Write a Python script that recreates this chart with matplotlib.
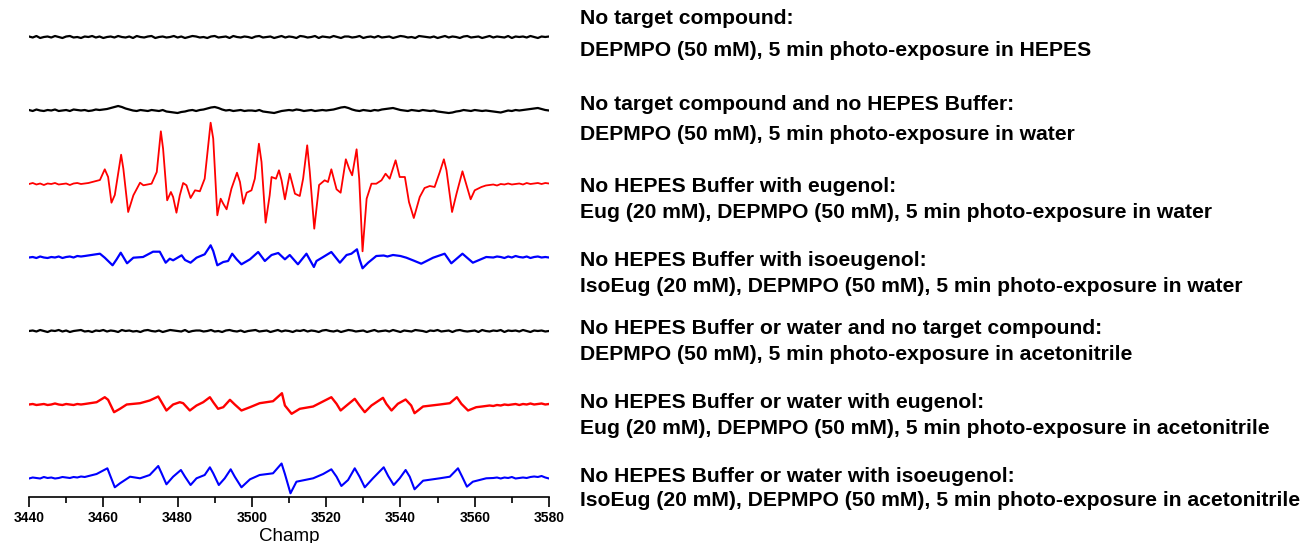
import numpy as np
import matplotlib
matplotlib.use('Agg')
import matplotlib.pyplot as plt
from matplotlib.ticker import MultipleLocator

plt.rcParams['font.family'] = ['Liberation Sans', 'DejaVu Sans']

# 1 G sampling grid for the flat (noise only) spectra, values read by eye
flat_field = np.arange(3440, 3581, 1)

blank_hepes = [0.5, -0.5, 1, -1, 0, 0.5, -0.5, 1, 0, -1,
               0.5, 1, -0.5, 0, -1, 0.5, 0, 1, -0.5, 0.5,
               -1, 0, 0.5, -0.5, 1, 0, -0.5, 0.5, -1, 1,
               0, -0.5, 0.5, 1, -1, 0, 0.5, -0.5, 0, 1,
               -0.5, 0.5, -1, 0, 1, 0.5, -0.5, 0, -1, 0.5,
               1, -0.5, 0, 0.5, -1, 1, 0, -0.5, 0.5, 0,
               -1, 0.5, 1, -0.5, 0, 0.5, -1, 0, 1, -0.5,
               0.5, 0, -1, 1, 0.5, -0.5, 0, 1, -1, 0.5,
               0, -0.5, 1, 0, -1, 0.5, 0.5, -0.5, 0, 1,
               -1, 0, 0.5, -0.5, 1, -0.5, 0, 0.5, -1, 0,
               1, 0.5, -0.5, 0, -1, 1, 0.5, 0, -0.5, 0.5,
               -1, 0, 1, -0.5, 0.5, 0, -1, 0.5, 1, -0.5,
               0, 0.5, -1, 0, 1, -0.5, 0.5, 0, -0.5, 1,
               -1, 0.5, 0, 0.5, -0.5, 1, 0, -1, 0.5, 0,
               0.5]

blank_water = [0.5, -0.5, 1, 0, -0.5, 0.5, 0, 1, -0.5, 0,
               0.5, -0.5, 1, 0.5, 0, 0.5, -0.5, 0, 1, 0.5,
               1, 1.5, 2.5, 3.5, 4.5, 3.5, 2, 1, 0, -0.5,
               0.5, 0, -0.5, 0.5, 0, -0.5, 0.5, -1, -1.5, -2,
               -2.5, -1.5, -1, 0, 0.5, -0.5, 0.5, 1, 2, 3,
               3.5, 2.5, 1, 0, 0.5, -0.5, 0, 0.5, -0.5, 0,
               0, -0.5, 0.5, -1, -1.5, -2, -2.5, -1.5, -0.5, 0,
               0.5, 0, 1, 0.5, -0.5, 0, 0.5, -0.5, 0, 0.5,
               0, 0.5, 1, 2, 3, 3.5, 2.5, 1, 0, -0.5,
               0.5, 0, -0.5, 0.5, 0, 1, 1.5, 2, 2.5, 1.5,
               0.5, 0, -0.5, 0.5, 0, -0.5, 0.5, 0, -0.5, 0,
               -1, -1.5, -2, -2.5, -2, -1, -0.5, 0.5, 0, -0.5,
               0.5, 0, -0.5, 0, -0.5, -1, -1.5, -2, -1, 0,
               -0.5, 0.5, 0, 0.5, 1, 1.5, 2, 2.5, 1.5, 0.5,
               0]

blank_acn = [0, 0.5, -0.5, 1, 0, -1, 0.5, 0, 1, -0.5,
             0.5, -1, 0, 0.5, 1, -0.5, 0, -1, 0.5, 0,
             1, -0.5, 0.5, 0, -1, 1, 0, 0.5, -0.5, 0,
             -1, 0.5, 1, 0, -0.5, 0.5, -1, 0, 1, 0.5,
             0, -0.5, 1, -1, 0, 0.5, 0.5, -0.5, 0, 1,
             -0.5, 0, -1, 0.5, 1, 0, -0.5, 0.5, -1, 0,
             0.5, 1, -0.5, 0, 0.5, -1, 0, 1, -0.5, 0.5,
             0, -1, 0.5, 0, 1, -0.5, 0.5, 0, -1, 0.5,
             1, 0, -0.5, 0.5, -1, 0, 1, 0.5, -0.5, 0,
             0.5, -1, 0, 1, -0.5, 0, 0.5, -0.5, 1, 0,
             -1, 0.5, 0, -0.5, 1, 0.5, 0, -1, 0.5, 0,
             1, -0.5, 0, 0.5, -1, 0.5, 1, 0, -0.5, 0,
             0.5, -1, 1, 0, -0.5, 0.5, 0, 1, -1, 0.5,
             0, 0.5, -0.5, 1, 0, -1, 0.5, 0, 0.5, -0.5,
             0]

# eugenol in water
eug_water_field = [3440, 3441, 3442, 3443, 3444, 3445, 3446, 3447, 3448,
                   3449, 3450, 3451, 3452, 3453, 3454, 3455, 3456,
                   3459.1, 3460.4, 3461.3, 3462.2, 3463.1, 3464.8,
                   3465.4, 3466.7, 3468.1, 3469.9, 3470.8, 3473.0, 3474.4, 3475.5,
                   3476.1, 3477.2, 3478.2, 3478.8, 3479.7, 3480.6, 3481.5, 3482.4,
                   3483.5, 3484.7, 3486.0, 3487.3, 3488.9, 3489.6, 3490.7, 3491.6,
                   3492.3, 3493.2, 3494.5, 3496.0, 3496.8, 3497.7, 3498.6, 3499.9,
                   3500.8, 3501.9, 3502.6, 3503.7, 3504.8, 3505.3, 3506.5, 3507.3,
                   3508.0, 3508.9, 3510.2, 3511.6, 3512.9, 3513.8, 3514.9, 3515.6,
                   3516.8, 3518.1, 3519.6, 3520.5, 3521.4, 3522.8, 3523.9, 3525.3,
                   3526.2, 3527.0, 3528.2, 3528.9, 3529.8, 3530.9, 3532.2, 3533.5,
                   3534.9, 3536.0, 3537.1, 3538.7, 3539.8, 3541.2, 3542.3, 3543.6,
                   3545.2, 3546.5, 3547.9, 3549.2, 3550.6, 3551.7, 3552.4, 3553.9,
                   3555.1, 3556.7, 3557.8, 3558.9, 3560.0, 3561.8, 3563,
                   3564, 3565, 3566, 3567, 3568, 3569, 3570, 3571, 3572,
                   3573, 3574, 3575, 3576, 3577, 3578, 3579, 3580]
eug_water = [0, 1, -0.5, 0.5, -1, 0.5, 0, 1, -0.5,
             0, 0.5, -1, 0.5, 1, 0, 0.5, 1,
             4, 14.7, 7, -18.7, -11, 29.3,
             15.3, -28, -11.3, 1.3, -1.3, 0.3, 12, 52.7,
             35.3, -16.3, -8, -13, -28.7, -11.3, 1, -1.3,
             -14, -6.3, -7.3, 5.3, 61.3, 45.3, -31.3, -14.7,
             -19.7, -25.3, -4.7, 11.3, 2, -19.7, -8.7, -6.3,
             5.3, 40.3, 22, -38.7, -11.3, 7, 5.3, 13.7,
             3.7, -15.3, 10.3, -9.7, -12, 5.3, 38.7, 12,
             -44.7, -1, 3.7, 2, 14.7, -5.3, -8.7, 24.7,
             15.3, 8.7, 34.7, 5.3, -67.3, -14.7, 0.3, 0.3,
             3.7, 10.3, 5.3, 23.7, 7, 7, -18, -34,
             -13, -4, -2, -3, 12, 24.7, 13.7, -28,
             -9.7, 12.7, -1.3, -15.3, -6.3, -3, -1.5,
             -1, -0.5, -1.5, 0, -0.5, 0.5, -0.5, 0, 0.5,
             -0.5, 1, 0, 0.5, 1, 0, 1, 0.5]

# isoeugenol in water
iso_water_field = [3440, 3441, 3442, 3443, 3444, 3445, 3446, 3447,
                   3448, 3449, 3450, 3451, 3452, 3453, 3454, 3455,
                   3459.1, 3460.4, 3462.5, 3463.6, 3464.7, 3466.4,
                   3468.1, 3470.7, 3473.4, 3475.2, 3476.8, 3477.9, 3478.8, 3481.1,
                   3482.0, 3483.5, 3485.1, 3487.3, 3488.9, 3489.6, 3490.7, 3492.3,
                   3493.6, 3494.7, 3495.9, 3497.2, 3499.5, 3501.7, 3503.5, 3505.3,
                   3507.1, 3508.9, 3510.2, 3512.4, 3514.7, 3516.7, 3517.4, 3519.2,
                   3521.4, 3523.7, 3525.5, 3526.8, 3528.3, 3529.0, 3529.8, 3531.3,
                   3533.5, 3535.5, 3536.5, 3538.0, 3540.0, 3541.6, 3543.5, 3545.6,
                   3548.8, 3551.9, 3553.7, 3556.7, 3559.5, 3563.1,
                   3565, 3566, 3567, 3568, 3569, 3570, 3571, 3572,
                   3573, 3574, 3575, 3576, 3577, 3578, 3579, 3580]
iso_water = [0, 0.5, -0.5, 1, 0, -0.5, 0.5, 0,
             1, -0.5, 0.5, 1, 0, 1.5, 1, 1.5,
             3.8, -0.2, -7.8, -1.8, 4.8, -5.8,
             -0.2, 0.5, 5.8, 5.8, -5.2, -1.2, -2.8, 2.2,
             -2.5, -5.2, -0.2, 3.2, 12.2, 6.5, -7.8, -4.5,
             -3.5, 3.8, -1.8, -6.8, -1.8, 5.5, -3.5, 2.5,
             4.5, -1.8, 2.5, -6.8, 3.8, -9.5, -3.5, 0.5,
             5.5, -5.2, 2.5, 3.8, 8.2, -1.8, -10.8, -5.2,
             1.5, 2, 1, 2.5, 1.5, -0.2, -3, -6.2,
             -0.2, 3.8, -5.8, 3.8, -5.2, 0.5,
             0, 1, 0.5, -0.5, 1, 0, 1.5, 0.5,
             0, 1, -0.5, 0.5, 1, 0, 0.5, 0]

# eugenol in acetonitrile
eug_acn_field = [3440, 3441, 3442, 3443, 3444, 3445, 3446, 3447,
                 3448, 3449, 3450, 3451, 3452, 3453, 3454, 3455,
                 3458.2, 3460.4, 3461.3, 3462.9, 3464.5, 3466.3,
                 3469.9, 3472.5, 3474.8, 3475.7, 3477.0, 3478.8, 3480.6, 3481.5,
                 3483.3, 3485.1, 3486.9, 3488.7, 3489.6, 3490.9, 3492.3, 3494.1,
                 3495.4, 3497.2, 3499.5, 3502.1, 3505.7, 3508.1, 3508.9, 3510.7,
                 3512.9, 3516.5, 3521.4, 3522.8, 3523.9, 3525.5, 3527.7, 3529.0,
                 3530.4, 3532.2, 3535.3, 3536.2, 3537.6, 3539.3, 3541.4, 3542.9,
                 3543.8, 3546.1, 3550.6, 3553.3, 3555.2, 3556.4, 3558.2, 3560.4,
                 3562, 3563, 3564, 3565, 3566, 3567, 3568, 3569, 3570, 3571,
                 3572, 3573, 3574, 3575, 3576, 3577, 3578, 3579, 3580]
eug_acn = [0, 0.5, -0.5, 0, 0.5, -0.5, 0, 1,
           0, -0.5, 0.5, 0, -0.5, 0.5, 0, 0.5,
           2.3, 7.3, 4.7, -7.7, -4.3, 0,
           1.3, 4, 8, 2.3, -6, 0, 2.3, 1.3,
           -6, -1, 2.3, 7.3, 2.3, -4.3, -2.7, 4.7,
           0, -6, -2.7, 1.3, 3.3, 11.3, -1, -9.3,
           -4.3, -2, 7.3, 0.7, -6, -1, 5.7, -1,
           -7.7, -1, 6.7, 0.7, -6, 0.7, 5, -1,
           -8.7, -2, 0, 1.3, 7.3, 0.7, -6, -2.7,
           -2, -1.5, -1, -1.5, -0.5, -1, 0, -0.5, 0, 0.5,
           -0.5, 0.5, 0, 1, 0, 0.5, 1, 0, 0.5]

# isoeugenol in acetonitrile
iso_acn_field = [3440, 3441, 3442, 3443, 3444, 3445, 3446, 3447,
                 3448, 3449, 3450, 3451, 3452, 3453, 3454, 3455,
                 3458.2, 3461.1, 3461.8, 3463.1, 3464.5, 3467.2,
                 3469.9, 3472.5, 3474.8, 3475.7, 3477.0, 3478.8, 3480.9, 3482.0,
                 3483.5, 3485.1, 3487.3, 3488.7, 3489.6, 3491.1, 3492.7, 3494.3,
                 3495.4, 3497.2, 3499.5, 3502.1, 3505.7, 3508.0, 3508.9, 3510.4,
                 3512.0, 3516.5, 3519.2, 3521.4, 3522.8, 3524.1, 3525.9, 3527.7,
                 3529.0, 3530.4, 3532.6, 3535.5, 3536.7, 3538.2, 3539.8, 3541.4,
                 3542.5, 3543.8, 3546.1, 3550.6, 3553.3, 3555.5, 3556.7, 3557.9,
                 3559.5, 3563.1,
                 3565, 3566, 3567, 3568, 3569, 3570, 3571, 3572,
                 3573, 3574, 3575, 3576, 3577, 3578, 3579, 3580]
iso_acn = [-0.5, 0.5, 0, -0.5, 1, 0, 0.5, -0.5,
           0, 1, 0.5, 0, 1, 0.5, 1.5, 1,
           4, 9.7, 3, -9.3, -5.3, 1.3,
           -0.3, 3, 12, 4.7, -6.3, 1.3, 8, 1.3,
           -7, -0.3, 3, 10.7, 4.7, -7, -0.3, 8.7,
           1.3, -9.3, -1.3, 3, 4.7, 14.5, 4, -15.3,
           -3.7, -0.3, 4, 8.7, 1.3, -8, -2, 9.7,
           1.3, -9.3, -0.3, 10.7, 2, -7, -0.3, 8,
           1.3, -11.3, -2.7, -0.3, 1.3, 9.7, 0.7, -8.7,
           -3.7, -0.3,
           0, 0.5, -0.5, 0.5, 0, 1, -0.5, 0,
           0.5, 0, 1, 1.5, 1, 2, 0.5, -0.5]

spectra = [
    (flat_field, blank_hepes, 'black'),
    (flat_field, blank_water, 'black'),
    (eug_water_field, eug_water, 'red'),
    (iso_water_field, iso_water, 'blue'),
    (flat_field, blank_acn, 'black'),
    (eug_acn_field, eug_acn, 'red'),
    (iso_acn_field, iso_acn, 'blue'),
]

labels = [
    ('No target compound:',
     'DEPMPO (50 mM), 5 min photo-exposure in HEPES'),
    ('No target compound and no HEPES Buffer:',
     'DEPMPO (50 mM), 5 min photo-exposure in water'),
    ('No HEPES Buffer with eugenol:',
     'Eug (20 mM), DEPMPO (50 mM), 5 min photo-exposure in water'),
    ('No HEPES Buffer with isoeugenol:',
     'IsoEug (20 mM), DEPMPO (50 mM), 5 min photo-exposure in water'),
    ('No HEPES Buffer or water and no target compound:',
     'DEPMPO (50 mM), 5 min photo-exposure in acetonitrile'),
    ('No HEPES Buffer or water with eugenol:',
     'Eug (20 mM), DEPMPO (50 mM), 5 min photo-exposure in acetonitrile'),
    ('No HEPES Buffer or water with isoeugenol:',
     'IsoEug (20 mM), DEPMPO (50 mM), 5 min photo-exposure in acetonitrile'),
]

W, H = 1310, 543
fig = plt.figure(figsize=(W / 100, H / 100), dpi=100)
ax = fig.add_axes([29 / W, 1 - 497 / H, 520 / W, 497 / H])

# vertical stacking of the spectra
offsets = [-37 - 73.5 * i for i in range(len(spectra))]
widths = [1.6, 1.6, 1.3, 1.6, 1.6, 1.7, 1.5]
for (xs, ys, col), off, lw in zip(spectra, offsets, widths):
    ax.plot(xs, np.asarray(ys) + off, color=col, lw=lw,
            solid_joinstyle='round')

ax.set_xlim(3440, 3580)
ax.set_ylim(-497, 0)
for s in ['top', 'left', 'right']:
    ax.spines[s].set_visible(False)
ax.spines['bottom'].set_linewidth(1.2)
ax.set_yticks([])
ax.xaxis.set_major_locator(MultipleLocator(20))
ax.xaxis.set_minor_locator(MultipleLocator(10))
ax.tick_params(axis='x', which='major', length=7, width=1.2, pad=3,
               labelsize=10)
ax.tick_params(axis='x', which='minor', length=4, width=1.2)
for t in ax.get_xticklabels():
    t.set_fontweight('bold')
ax.set_xlabel('Champ', fontsize=13.5, labelpad=2)

# text blocks next to each spectrum (centre of each line, px from top)
line_y = [(19, 50), (104, 134), (186, 213), (260, 287),
          (329, 355), (403, 428), (477, 500)]
for (l1, l2), (y1, y2) in zip(labels, line_y):
    fig.text(580 / W, 1 - y1 / H, l1, fontsize=15.2, fontweight='bold',
             va='center', ha='left')
    fig.text(580 / W, 1 - y2 / H, l2, fontsize=15.2, fontweight='bold',
             va='center', ha='left')

fig.savefig('out.png', dpi=100)
